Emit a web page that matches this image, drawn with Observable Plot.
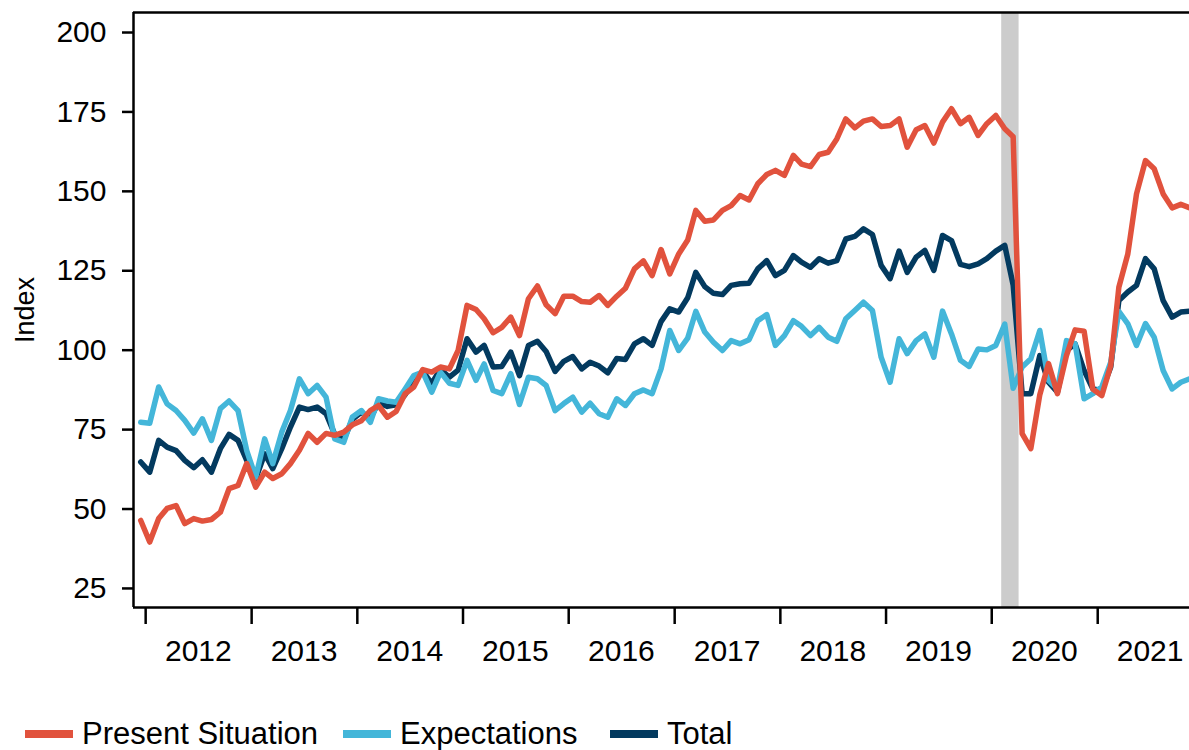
<!DOCTYPE html>
<html>
<head>
<meta charset="utf-8">
<script src="https://cdn.jsdelivr.net/npm/d3@7"></script>
<script src="https://cdn.jsdelivr.net/npm/@observablehq/plot@0.6"></script>
<style>
  body { margin: 0; background: #fff; }
  #chart svg, #legend svg { display: block; }
</style>
</head>
<body>
<div id="chart"></div>
<div id="legend"></div>
<script>
// ---- Data (monthly, Dec 2011 – Nov 2021) ----
const firstMonth = "2011-12-15";

const present = [
  46.4, 39.6, 47.0, 50.2, 51.1, 45.4, 47.0, 46.2, 46.7, 49.0, 56.4, 57.4,
  64.3, 56.9, 61.6, 59.6, 61.1, 64.3, 68.5, 73.8, 71.0, 73.8, 73.2, 74.2,
  76.5, 77.8, 81.0, 82.6, 78.9, 80.7, 86.3, 88.4, 93.9, 93.1, 94.7, 94.1,
  99.9, 114.1, 112.8, 109.9, 105.5, 107.2, 110.4, 104.6, 116.2, 120.2, 114.3, 111.5,
  117.0, 117.0, 115.3, 115.1, 117.2, 114.1, 117.0, 119.5, 125.6, 128.1, 123.5, 131.7,
  124.0, 130.3, 134.7, 144.0, 140.6, 141.0, 144.0, 145.5, 148.7, 147.3, 152.4, 155.3,
  156.6, 155.0, 161.3, 158.6, 157.8, 161.6, 162.3, 166.5, 172.8, 170.0, 172.1, 172.8,
  170.4, 170.7, 172.8, 163.9, 169.4, 170.7, 165.2, 171.8, 176.0, 171.3, 173.3, 167.6,
  171.3, 173.9, 169.7, 167.2, 73.7, 69.0, 86.0, 95.8, 86.3, 98.3, 106.4, 106.0,
  87.8, 85.7, 95.2, 119.8, 130.3, 149.2, 159.7, 157.1, 149.2, 144.8, 145.9, 144.8
];

const expectations = [
  77.3, 77.0, 88.4, 83.1, 81.0, 77.9, 73.9, 78.4, 71.6, 81.6, 84.0, 81.0,
  68.4, 60.0, 72.1, 64.3, 74.2, 81.0, 91.0, 86.3, 88.9, 85.2, 72.1, 71.0,
  79.0, 81.0, 77.3, 84.7, 84.0, 83.6, 87.8, 92.0, 93.1, 86.8, 93.1, 89.6,
  88.9, 96.8, 90.5, 95.7, 87.3, 86.3, 92.6, 82.9, 91.5, 91.0, 88.9, 81.0,
  83.2, 85.2, 80.5, 83.3, 80.0, 78.9, 84.7, 82.6, 86.3, 87.5, 86.3, 94.1,
  106.2, 99.9, 103.8, 112.2, 105.7, 102.5, 99.9, 103.0, 102.0, 103.3, 109.3, 111.2,
  101.5, 104.6, 109.3, 107.5, 104.6, 107.2, 104.1, 102.8, 109.9, 112.5, 115.1, 112.5,
  97.8, 89.9, 103.6, 98.9, 103.0, 105.1, 97.8, 112.3, 105.1, 96.8, 94.9, 100.4,
  100.1, 101.5, 108.2, 88.0, 94.7, 97.3, 106.2, 90.5, 87.8, 103.0, 102.0, 84.7,
  86.3, 88.4, 96.2, 112.2, 108.3, 101.5, 108.4, 104.1, 93.6, 87.8, 89.9, 91.0
];

const total = [
  64.8, 61.6, 71.6, 69.5, 68.4, 65.3, 63.0, 65.5, 61.6, 69.0, 73.5, 71.6,
  65.3, 59.5, 67.4, 62.7, 69.0, 75.8, 82.1, 81.3, 82.1, 80.0, 73.5, 71.8,
  78.2, 80.5, 78.5, 83.5, 82.3, 82.8, 86.0, 90.6, 93.4, 89.5, 94.0, 91.5,
  93.7, 103.6, 99.4, 101.5, 94.7, 94.9, 99.4, 92.0, 101.5, 102.8, 99.6, 93.3,
  96.5, 98.0, 94.1, 96.2, 95.0, 92.9, 97.4, 97.1, 102.0, 103.6, 101.5, 109.0,
  113.0, 112.0, 116.5, 124.5, 120.0, 117.9, 117.5, 120.4, 120.9, 121.1, 125.6, 128.2,
  123.5, 125.1, 129.8, 127.7, 126.1, 128.8, 127.4, 128.2, 135.0, 135.8, 138.2, 136.4,
  126.7, 122.5, 131.2, 124.5, 129.3, 131.4, 125.1, 136.1, 134.5, 127.0, 126.3, 127.2,
  128.8, 131.2, 133.0, 120.5, 86.3, 86.3, 98.3, 89.9, 86.8, 99.9, 102.0, 93.6,
  87.8, 87.3, 94.7, 115.6, 118.3, 120.4, 128.8, 125.6, 115.6, 110.4, 112.0, 112.3
];

const yearLabels = ["2012","2013","2014","2015","2016","2017","2018","2019","2020","2021"];
const yTicks = [25, 50, 75, 100, 125, 150, 175, 200];
const recessions = [{ start: "2020-02-01", end: "2020-04-01" }];
const seriesNames = ["Present Situation", "Expectations", "Total"];
const seriesColors = ["#E1523D", "#44B6D9", "#033A5F"];

// ---- Build tables ----
const t0 = new Date(firstMonth + "T00:00:00Z");
const toRows = (arr, name) => arr.map((v, i) => ({ date: d3.utcMonth.offset(t0, i), value: v, series: name }));
const rowsPresent = toRows(present, seriesNames[0]);
const rowsExpect = toRows(expectations, seriesNames[1]);
const rowsTotal = toRows(total, seriesNames[2]);

const yearStarts = yearLabels.map(y => new Date(`${y}-01-01T00:00:00Z`));
const yearMids = yearLabels.map(y => new Date(`${y}-07-01T00:00:00Z`));
const recRows = recessions.map(r => ({ start: new Date(r.start + "T00:00:00Z"), end: new Date(r.end + "T00:00:00Z") }));

const xDomain = [new Date("2011-11-20T00:00:00Z"), new Date("2021-11-14T00:00:00Z")];
const yDomain = [19, 206.3];
const font = "'Liberation Sans', Arial, Helvetica, sans-serif";
const lw = 5.5;
const axisW = 2.5;

const chart = Plot.plot({
  width: 1189,
  height: 680,
  marginTop: 12,
  marginBottom: 73,
  marginLeft: 133,
  marginRight: 0,
  style: { fontFamily: font, fontSize: "30px", color: "#000", background: "#fff", overflow: "visible" },
  x: { type: "utc", domain: xDomain },
  y: { domain: yDomain },
  marks: [
    Plot.rect(recRows, { x1: "start", x2: "end", y1: () => yDomain[0], y2: () => yDomain[1], fill: "#CCCCCC", dx: 1 }),
    Plot.line(rowsTotal, { x: "date", y: "value", stroke: seriesColors[2], strokeWidth: lw }),
    Plot.line(rowsExpect, { x: "date", y: "value", stroke: seriesColors[1], strokeWidth: lw }),
    Plot.line(rowsPresent, { x: "date", y: "value", stroke: seriesColors[0], strokeWidth: lw }),
    // frame: top, bottom, left
    Plot.ruleY([yDomain[1], yDomain[0]], { stroke: "#000", strokeWidth: axisW }),
    Plot.ruleX([xDomain[0]], { stroke: "#000", strokeWidth: axisW }),
    Plot.axisY({ ticks: yTicks, tickSize: 11, tickPadding: 16, fontSize: 30, strokeWidth: axisW, label: null }),
    Plot.axisX({ ticks: yearStarts, tickSize: 17, tickFormat: () => "", strokeWidth: axisW, label: null }),
    Plot.axisX({ ticks: yearMids, tickSize: 0, tickPadding: 32, tickFormat: (d, i) => yearLabels[i], fontSize: 30, label: null }),
    Plot.text(["Index"], { frameAnchor: "left", rotate: -90, dx: -108, fontSize: 27, textAnchor: "middle", lineAnchor: "middle" })
  ]
});
document.getElementById("chart").appendChild(chart);

// ---- Legend below the chart ----
const legendItems = [
  { name: seriesNames[0], color: seriesColors[0], x: 25, tx: 82 },
  { name: seriesNames[1], color: seriesColors[1], x: 343, tx: 400 },
  { name: seriesNames[2], color: seriesColors[2], x: 610, tx: 667 }
];
const lsvg = d3.select("#legend").append("svg").attr("width", 1189).attr("height", 70);
const g = lsvg.selectAll("g").data(legendItems).join("g");
g.append("rect").attr("x", d => d.x).attr("y", 50).attr("width", 48).attr("height", 8).attr("fill", d => d.color);
g.append("text").attr("x", d => d.tx).attr("y", 64)
  .attr("font-family", font).attr("font-size", 31).attr("fill", "#000")
  .text(d => d.name);
</script>
</body>
</html>
